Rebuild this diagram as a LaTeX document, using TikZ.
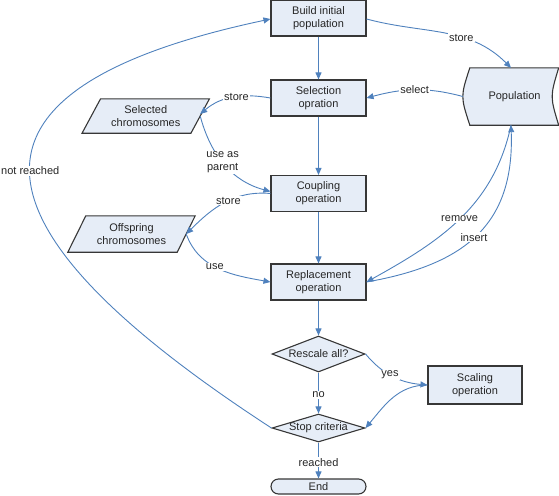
\documentclass[tikz,border=0pt]{standalone}
\usepackage{fontspec}
\setmainfont{Liberation Sans}
\usetikzlibrary{shapes.geometric,arrows.meta,backgrounds}
\definecolor{boxfill}{RGB}{230,237,247}
\definecolor{boxline}{RGB}{55,55,55}
\definecolor{linkblue}{RGB}{79,129,189}
\begin{document}
\begin{tikzpicture}[x=1pt,y=1pt,
  every node/.style={font=\fontsize{11}{12.7}\selectfont,align=center,text=black!85},
  box/.style={draw=boxline,fill=boxfill,line width=1.1pt,minimum width=95pt,minimum height=36pt,inner sep=0pt},
  decide/.style={diamond,draw=boxline,fill=boxfill,line width=1.1pt,minimum width=93pt,inner sep=0pt},
  plain/.style={inner sep=0pt},
  shapeline/.style={draw=boxline,fill=boxfill,line width=1.1pt},
  link/.style={draw=linkblue,line width=0.9pt,-{Triangle[length=7pt,width=6pt]}},
  lbl/.style={fill=white,inner sep=1pt}]
  \useasboundingbox (0,0) rectangle (559,-495);

  % main column
  \node[box] (build) at (318.5,-18) {Build initial\\population};
  \node[box] (select) at (318.5,-98) {Selection\\opration};
  \node[box] (couple) at (318.5,-193.5) {Coupling\\operation};
  \node[box] (replace) at (318.5,-282) {Replacement\\operation};
  \node[decide,minimum height=36pt,aspect=2.6] (rescale) at (318.5,-354) {Rescale all?};
  \node[decide,minimum height=28pt,aspect=3.3,inner xsep=-6pt] (stop) at (318.5,-428) {Stop criteria};
  \node[box,minimum height=15pt,rounded corners=7.5pt] (finish) at (318.5,-486.5) {End};
  \node[box,minimum width=94pt,minimum height=38pt] (scale) at (475,-385) {Scaling\\operation};

  % stores
  \node[plain,minimum width=89pt,minimum height=57pt] (pop) at (514.5,-96.5) {Population};
  \node[plain,minimum width=108.5pt,minimum height=34pt] (selc) at (145.75,-116) {Selected\\chromosomes};
  \node[plain,minimum width=109pt,minimum height=36pt] (offc) at (131.5,-234) {Offspring\\chromosomes};
  \begin{pgfonlayer}{background}
    \draw[shapeline] (pop.north west) .. controls ([xshift=-9.3pt]pop.west) .. (pop.south west)
      -- ([xshift=-0.5pt]pop.south east) .. controls ([xshift=-9.2pt]pop.east) .. ([xshift=-0.5pt]pop.north east) -- cycle;
    \draw[shapeline] ([xshift=9.25pt]selc.north west) -- ([xshift=9.25pt]selc.north east)
      -- ([xshift=-9.25pt]selc.south east) -- ([xshift=-9.25pt]selc.south west) -- cycle;
    \draw[shapeline] ([xshift=9pt]offc.north west) -- ([xshift=9pt]offc.north east)
      -- ([xshift=-9pt]offc.south east) -- ([xshift=-9pt]offc.south west) -- cycle;
  \end{pgfonlayer}

  % straight flow
  \draw[link] (build) -- (select);
  \draw[link] (select) -- (couple);
  \draw[link] (couple) -- (replace);
  \draw[link] (replace) -- (rescale);
  \draw[link] (rescale) -- node[lbl,pos=0.55] (lno) {no} (stop);
  \draw[link] (stop) -- node[lbl,pos=0.55] (lreached) {reached} (finish);

  % curved links
  \draw[link] ([yshift=-1pt]build.east) to[out=-15,in=135] node[lbl,pos=0.62] (lstore) {store} ([xshift=-3.5pt]pop.north);
  \draw[link] ([xshift=-7pt]pop.west) to[out=165,in=15] node[lbl,pos=0.5] (lselect) {select} (select.east);
  \draw[link] (select.west) to[out=170,in=40] node[lbl,pos=0.45] (lstoresel) {store} ([yshift=2pt]selc.east);
  \draw[link] (selc.east) to[out=-75,in=165] node[lbl,pos=0.47] (lparent) {use as\\parent} ([yshift=2pt]couple.west);
  \draw[link] (couple.west) to[out=175,in=45] node[lbl,pos=0.45] (lstoreoff) {store} (offc.east);
  \draw[link] (offc.east) to[out=-70,in=170] node[lbl,pos=0.45] (luse) {use} (replace.west);
  \draw[link] ([xshift=-3.5pt]pop.south) to[out=258,in=29] node[lbl,pos=0.5] (lremove) {remove} (replace.east);
  \draw[link] (replace.east) to[out=10,in=-88,looseness=1.2] node[lbl,pos=0.48] (linsert) {insert} ([xshift=-3.5pt]pop.south);
  \draw[link] (rescale.east) to[out=-50,in=175] node[lbl,pos=0.45] (lyes) {yes} (scale.west);
  \draw[link] (scale.west) to[out=180,in=50] (stop.east);
  \draw[link] (stop.west) .. controls (-50,-219) and (-50,-87) .. ([yshift=-1pt]build.west)
    node[lbl,pos=0.5] (lnot) {not reached};
\end{tikzpicture}
\end{document}
